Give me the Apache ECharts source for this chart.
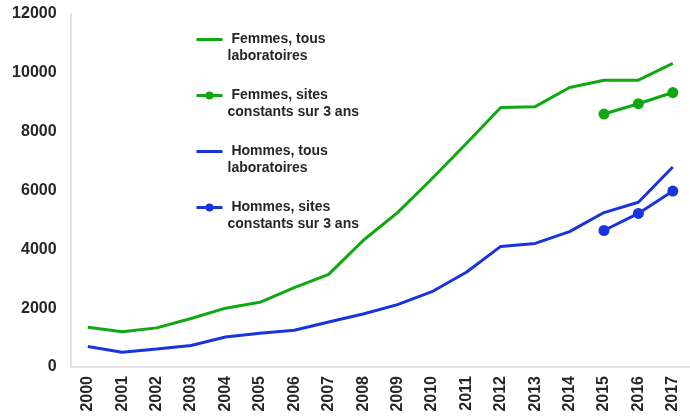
<!DOCTYPE html>
<html><head><meta charset="utf-8">
<script src="https://cdn.jsdelivr.net/npm/echarts@6/dist/echarts.min.js"></script>
<style>html,body{margin:0;padding:0;background:#fff}#c{width:690px;height:420px}</style>
</head><body><div id="c"></div>
<script>
var years = ['2000','2001','2002','2003','2004','2005','2006','2007','2008','2009','2010','2011','2012','2013','2014','2015','2016','2017'];
var femmesTous = [1350,1200,1330,1650,2000,2200,2700,3150,4300,5250,6400,7600,8820,8850,9500,9750,9750,10320];
var femmesConst = [null,null,null,null,null,null,null,null,null,null,null,null,null,null,null,8600,8950,9330];
var hommesTous = [700,500,610,730,1020,1150,1250,1530,1800,2120,2560,3220,4100,4200,4600,5250,5600,6800];
var hommesConst = [null,null,null,null,null,null,null,null,null,null,null,null,null,null,null,4640,5220,5980];
var yTicks = [0,2000,4000,6000,8000,10000,12000];
var names = ['Femmes, tous laboratoires','Femmes, sites constants sur 3 ans','Hommes, tous laboratoires','Hommes, sites constants sur 3 ans'];
var legendText = {
  'Femmes, tous laboratoires': '\n Femmes, tous\nlaboratoires',
  'Femmes, sites constants sur 3 ans': '\n Femmes, sites\nconstants sur 3 ans',
  'Hommes, tous laboratoires': '\n Hommes, tous\nlaboratoires',
  'Hommes, sites constants sur 3 ans': '\n Hommes, sites\nconstants sur 3 ans'
};
var GREEN = '#10a810', BLUE = '#1a33e0';
var LINE_ICON = 'path://M0,0L26,0L26,3L0,3Z';
var chart = echarts.init(document.getElementById('c'), null, {renderer:'canvas'});
chart.setOption({
  animation: false,
  backgroundColor: '#fff',
  grid: {left: 70.6, right: -6.3, top: 14, bottom: 53, containLabel: false},
  legend: {
    orient: 'vertical', left: 190, top: 9,
    itemWidth: 26, itemHeight: 10, itemGap: 5,
    lineStyle: {width: 3},
    data: [
      {name: names[0], icon: LINE_ICON},
      {name: names[1]},
      {name: names[2], icon: LINE_ICON},
      {name: names[3]}
    ],
    formatter: function(n){ return legendText[n]; },
    textStyle: {fontFamily: 'Liberation Sans, Arial, sans-serif', fontWeight: 'bold', fontSize: 14, color: '#262626', lineHeight: 17}
  },
  xAxis: {
    type: 'category', data: years, boundaryGap: true,
    axisLine: {show: true, lineStyle: {color: '#d9d9d9', width: 1.5}},
    axisTick: {show: false},
    axisLabel: {rotate: 90, margin: 9, fontFamily: 'Liberation Sans, Arial, sans-serif', fontWeight: 'bold', fontSize: 16, color: '#262626', interval: 0}
  },
  yAxis: {
    type: 'value', min: 0, max: 12000, interval: 2000,
    axisLine: {show: true, lineStyle: {color: '#d9d9d9', width: 1.5}},
    axisTick: {show: false},
    splitLine: {show: false},
    axisLabel: {margin: 14, fontFamily: 'Liberation Sans, Arial, sans-serif', fontWeight: 'bold', fontSize: 16, color: '#262626',
      formatter: function(v){ return yTicks.indexOf(v) >= 0 ? String(v) : ''; }}
  },
  series: [
    {name: names[0], type: 'line', data: femmesTous, symbol: 'none', lineStyle: {color: GREEN, width: 3}, itemStyle: {color: GREEN}},
    {name: names[1], type: 'line', data: femmesConst, symbol: 'circle', symbolSize: 11, lineStyle: {color: GREEN, width: 3}, itemStyle: {color: GREEN}},
    {name: names[2], type: 'line', data: hommesTous, symbol: 'none', lineStyle: {color: BLUE, width: 3}, itemStyle: {color: BLUE}},
    {name: names[3], type: 'line', data: hommesConst, symbol: 'circle', symbolSize: 11, lineStyle: {color: BLUE, width: 3}, itemStyle: {color: BLUE}}
  ]
});
</script></body></html>
